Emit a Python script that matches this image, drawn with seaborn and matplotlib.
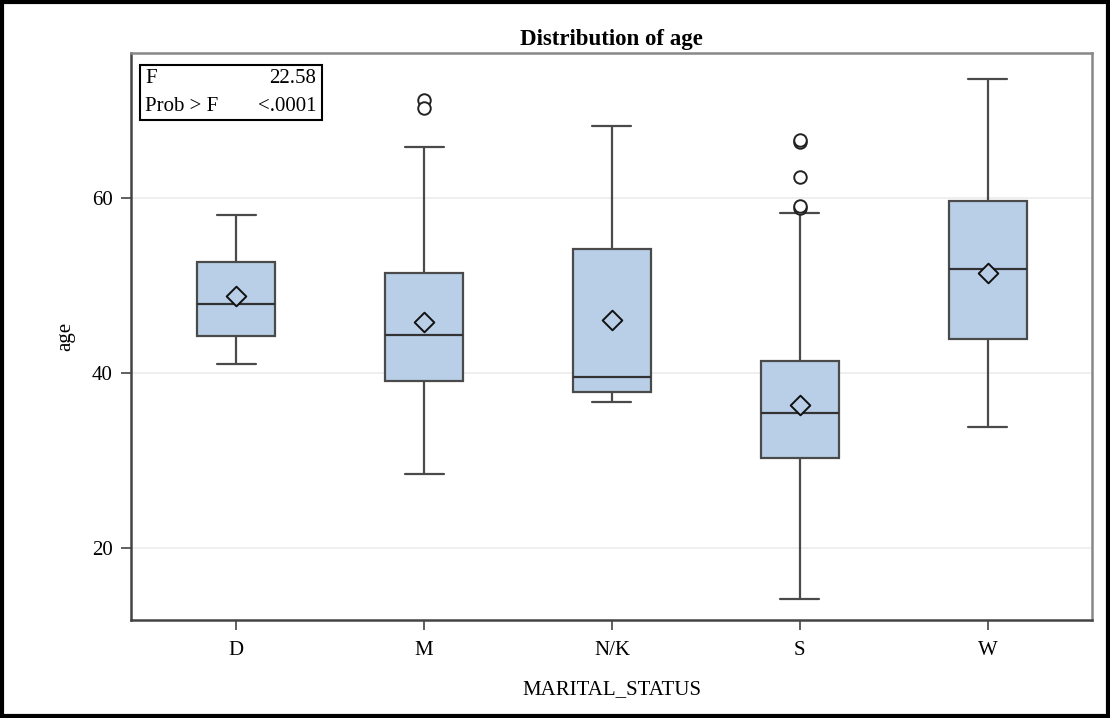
import numpy as np
import pandas as pd
import matplotlib
matplotlib.use("Agg")
import matplotlib.pyplot as plt
import seaborn as sns
from matplotlib.patches import Rectangle

# ---- data ----
categories = ["D", "M", "N/K", "S", "W"]
whisker_low = [41.0, 28.5, 36.7, 14.2, 33.8]
q1_vals = [44.2, 39.1, 37.8, 30.3, 43.9]
median_vals = [47.9, 44.3, 39.5, 35.4, 51.9]
q3_vals = [52.7, 51.4, 54.2, 41.4, 59.7]
whisker_high = [58.1, 65.8, 68.2, 58.3, 73.6]
mean_vals = [48.8, 45.9, 46.1, 36.3, 51.4]
outlier_cats = ["M", "M", "S", "S", "S", "S", "S"]
outlier_vals = [71.2, 70.3, 66.4, 66.6, 62.4, 58.9, 59.1]
y_ticks = [20, 40, 60]
f_value = "22.58"
p_value = "<.0001"

rows = []
for c, lo, a, m, b, hi in zip(categories, whisker_low, q1_vals, median_vals, q3_vals, whisker_high):
    for v in (lo, a, m, b, hi):
        rows.append({"MARITAL_STATUS": c, "age": v})
df = pd.DataFrame(rows)
df_mean = pd.DataFrame({"MARITAL_STATUS": categories, "age": mean_vals})
df_out = pd.DataFrame({"MARITAL_STATUS": outlier_cats, "age": outlier_vals})

sns.set_theme(style="white")
plt.rcParams["font.family"] = ["Liberation Serif", "DejaVu Serif"]
plt.rcParams["text.color"] = "black"
plt.rcParams["axes.labelcolor"] = "black"
plt.rcParams["xtick.color"] = "black"
plt.rcParams["ytick.color"] = "black"

fig = plt.figure(figsize=(11.10, 7.18), dpi=100)
ax = fig.add_axes([131 / 1110, 1 - 620 / 718, (1092 - 131) / 1110, (620 - 53) / 718])

for yv in y_ticks:
    ax.axhline(yv, color="#ececec", linewidth=1.2, zorder=0)

line_c = "#4a4a4a"
sns.boxplot(data=df, x="MARITAL_STATUS", y="age", order=categories, whis=(0, 100),
            width=0.415, color="#b9cfe8", linecolor=line_c, linewidth=1.6,
            showfliers=False, saturation=1, ax=ax,
            medianprops={"color": "#333333", "linewidth": 1.6},
            capprops={"color": line_c, "linewidth": 1.6},
            whiskerprops={"color": line_c, "linewidth": 1.6})

sns.stripplot(data=df_mean, x="MARITAL_STATUS", y="age", order=categories, jitter=False,
              marker="D", size=10, color="#b9cfe8", edgecolor="#111111", linewidth=1.4,
              ax=ax, zorder=5)
sns.stripplot(data=df_out, x="MARITAL_STATUS", y="age", order=categories, jitter=False,
              marker="o", size=9, color="white", edgecolor="#222222", linewidth=1.4,
              ax=ax, zorder=5)

ax.set_xlim(-0.56, 4.555)
ax.set_ylim(11.77, 76.6)
ax.set_yticks(y_ticks)
ax.set_xlabel("MARITAL_STATUS", fontsize=15, labelpad=14.5)
ax.set_ylabel("age", fontsize=15, labelpad=12)
ax.set_title("Distribution of age", fontsize=16.5, fontweight="bold", pad=6)
ax.tick_params(axis="both", labelsize=15, length=7, width=1.2, color="#444444",
               labelcolor="black", direction="out", bottom=True, left=True)
ax.tick_params(axis="x", pad=8)
ax.tick_params(axis="y", pad=6)
for s in ["left", "bottom"]:
    ax.spines[s].set_color("#444444")
    ax.spines[s].set_linewidth(1.8)
for s in ["top", "right"]:
    ax.spines[s].set_color("#888888")
    ax.spines[s].set_linewidth(1.8)
    ax.spines[s].set_visible(True)

# inset statistics box
ax.add_patch(Rectangle((0.0094, 0.882), 0.189, 0.097, transform=ax.transAxes,
                       fill=True, facecolor="white", edgecolor="black", linewidth=1.5, zorder=6))
ax.text(0.0145, 0.955, "F", transform=ax.transAxes, fontsize=15, va="center", ha="left", zorder=7)
ax.text(0.193, 0.955, f_value, transform=ax.transAxes, fontsize=15, va="center", ha="right", zorder=7)
ax.text(0.0145, 0.906, "Prob > F", transform=ax.transAxes, fontsize=15, va="center", ha="left", zorder=7)
ax.text(0.193, 0.906, p_value, transform=ax.transAxes, fontsize=15, va="center", ha="right", zorder=7)

# outer border
fig.add_artist(Rectangle((0.002, 0.003), 0.996, 0.994, transform=fig.transFigure,
                         fill=False, edgecolor="black", linewidth=3))

fig.savefig("out.png", dpi=100)
